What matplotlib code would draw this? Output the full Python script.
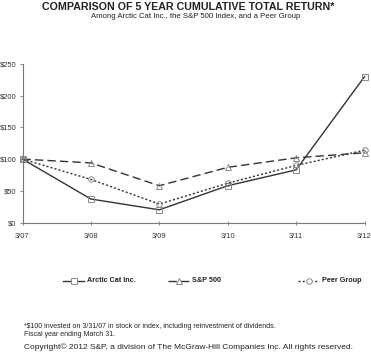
import matplotlib
matplotlib.use("Agg")
import matplotlib.pyplot as plt
from matplotlib.lines import Line2D

plt.rcParams["font.family"] = ["Liberation Sans", "DejaVu Sans"]

years = ["3/07", "3/08", "3/09", "3/10", "3/11", "3/12"]
arctic_cat = [100, 37, 20, 58, 83, 230]
sp500 = [100, 94, 58, 87, 102, 110]
peer_group = [100, 68, 29, 62, 90, 114]
y_ticks = [0, 50, 100, 150, 200, 250]

W, H = 371, 355
fig = plt.figure(figsize=(W / 100, H / 100), dpi=100)
ax = fig.add_axes([22.5 / W, 1 - 222.5 / H, 342 / W, 158.5 / H])

line_col = "#333333"
mark_col = "#8a8a8a"
series = [
    ("Arctic Cat Inc.", arctic_cat, "-", "s"),
    ("S&P 500", sp500, (0, (6, 3)), "^"),
    ("Peer Group", peer_group, (0, (1.5, 1.5)), "o"),
]
x = list(range(len(years)))
for label, vals, ls, mk in series:
    ax.plot(x, vals, linestyle=ls, color=line_col, linewidth=1.0,
            marker=mk, markersize=4, markerfacecolor="none",
            markeredgecolor=mark_col, markeredgewidth=0.7, clip_on=False)

ax.set_xlim(0, 5)
ax.set_ylim(0, 250)
ax.set_xticks(x)
ax.set_xticklabels(years)
ax.set_yticks(y_ticks)
ax.set_yticklabels([f"${v}" for v in y_ticks])
for s in ("top", "right"):
    ax.spines[s].set_visible(False)
for s in ("left", "bottom"):
    ax.spines[s].set_color("#777777")
    ax.spines[s].set_linewidth(0.8)
ax.tick_params(axis="x", direction="inout", length=3, width=0.6, colors="#777777",
               labelcolor="#333333", labelsize=5.4, pad=6)
ax.tick_params(axis="y", direction="out", length=2, width=0.6, colors="#777777",
               labelcolor="#333333", labelsize=5.4, pad=2.5)

fig.text(188 / W, 1 - 7 / H, "COMPARISON OF 5 YEAR CUMULATIVE TOTAL RETURN*",
         ha="center", va="center", fontsize=7.7, fontweight="bold", color="#222222")
fig.text(196 / W, 1 - 16.5 / H, "Among Arctic Cat Inc., the S&P 500 Index, and a Peer Group",
         ha="center", va="center", fontsize=5.6, color="#222222")

# legend
leg_y = 1 - 281 / H
leg = [(63, 87), (168, 192), (298, 322)]
for (label, vals, ls, mk), (x0, xt) in zip(series, leg):
    fig.add_artist(Line2D([x0 / W, (x0 + 21) / W], [leg_y, leg_y], linestyle=ls,
                          color=line_col, linewidth=1.0))
    fig.add_artist(Line2D([(x0 + 10.5) / W], [leg_y], marker=mk, markersize=4,
                          markerfacecolor="white", markeredgecolor=mark_col,
                          markeredgewidth=0.7, linestyle="none"))
    fig.text(xt / W, leg_y, label, ha="left", va="center", fontsize=5.2,
             fontweight="bold", color="#222222")

fig.text(24 / W, 1 - 327 / H,
         "*$100 invested on 3/31/07 in stock or index, including reinvestment of dividends.",
         ha="left", va="center", fontsize=5.0, color="#222222")
fig.text(24 / W, 1 - 334.5 / H, "Fiscal year ending March 31.",
         ha="left", va="center", fontsize=5.0, color="#222222")
fig.text(24 / W, 1 - 347 / H,
         "Copyright\u00a9 2012 S&P, a division of The McGraw-Hill Companies Inc. All rights reserved.",
         ha="left", va="center", fontsize=6.0, color="#222222")

fig.savefig("out.png", dpi=100)
